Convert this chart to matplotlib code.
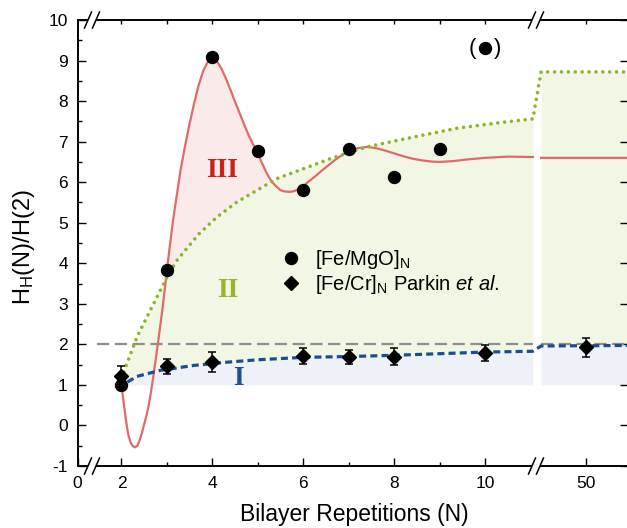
import numpy as np
import matplotlib
matplotlib.use("Agg")
import matplotlib.pyplot as plt
from matplotlib.lines import Line2D
from matplotlib.patches import Polygon

plt.rcParams['font.family'] = ['Liberation Sans', 'DejaVu Sans']
plt.rcParams['mathtext.fontset'] = 'custom'
plt.rcParams['mathtext.rm'] = 'Liberation Sans'
plt.rcParams['mathtext.it'] = 'Liberation Sans:italic'
plt.rcParams['axes.unicode_minus'] = False

# measured points
mgo_n = [2, 3, 4, 5, 6, 7, 8, 9, 10]
mgo_v = [0.99, 3.83, 9.09, 6.77, 5.80, 6.81, 6.13, 6.83, 9.32]

cr_n = [2, 3, 4, 6, 7, 8, 10, 50]
cr_v = [1.23, 1.46, 1.56, 1.71, 1.69, 1.70, 1.79, 1.93]
cr_err = [0.23, 0.18, 0.25, 0.20, 0.17, 0.22, 0.20, 0.23]

# guide curves
red_n = [2.0, 2.05, 2.1, 2.15, 2.2, 2.25, 2.3, 2.35, 2.4, 2.45, 2.5, 2.55, 2.6, 2.65,
         2.7, 2.75, 2.8, 2.85, 2.9, 2.95, 3.0, 3.05, 3.1, 3.15, 3.2, 3.3, 3.4, 3.5,
         3.6, 3.7, 3.8, 3.9, 4.0, 4.1, 4.2, 4.3, 4.4, 4.5, 4.6, 4.7, 4.8, 4.9, 5.0,
         5.1, 5.2, 5.3, 5.4, 5.5, 5.6, 5.7, 5.8, 5.9, 6.0, 6.1, 6.2, 6.3, 6.4, 6.5,
         6.6, 6.7, 6.8, 6.9, 7.0, 7.2, 7.4, 7.6, 7.8, 8.0, 8.2, 8.4, 8.6, 8.8, 9.0,
         9.3, 9.6, 10.0, 10.5, 11.05, np.nan, 45, 60]
red_v = [1.0, 0.55, 0.12, -0.23, -0.42, -0.51, -0.54, -0.5, -0.37, -0.18, 0.03, 0.24,
         0.5, 0.83, 1.2, 1.6, 2.01, 2.43, 2.86, 3.33, 3.83, 4.3, 4.75, 5.18, 5.55, 6.3,
         6.9, 7.45, 7.95, 8.4, 8.75, 8.97, 9.05, 8.98, 8.8, 8.55, 8.27, 7.98, 7.7,
         7.42, 7.15, 6.92, 6.7, 6.45, 6.21, 6.02, 5.9, 5.8, 5.77, 5.76, 5.78, 5.83,
         5.9, 6.0, 6.09, 6.18, 6.28, 6.37, 6.46, 6.55, 6.63, 6.70, 6.76, 6.84, 6.87,
         6.84, 6.78, 6.71, 6.64, 6.58, 6.54, 6.51, 6.50, 6.52, 6.56, 6.60, 6.63, 6.62,
         np.nan, 6.6, 6.6]

green_n = [2.05, 2.34, 2.67, 3.0, 3.22, 3.5, 3.7, 4.1, 4.54, 4.98, 5.42, 5.71, 6.12,
           6.59, 7.40, 8.28, 9.38, 10.48, 11.05, 45, 60]
green_v = [1.32, 2.18, 2.92, 3.66, 4.07, 4.45, 4.72, 5.14, 5.51, 5.80, 6.09, 6.21, 6.38,
           6.58, 6.87, 7.08, 7.33, 7.49, 7.56, 8.72, 8.72]

blue_n = [2.13, 2.34, 2.86, 3.59, 4.32, 5.0, 6.0, 7.0, 8.0, 9.0, 10.0, 11.05, 45, 60]
blue_v = [1.07, 1.21, 1.36, 1.48, 1.56, 1.62, 1.68, 1.70, 1.73, 1.77, 1.81, 1.83, 1.96, 1.98]

x_ticks = [0, 2, 4, 6, 8, 10, 50]
x_minor = [3, 5, 7, 9]

# broken axis: piecewise-linear x scale
KN = [0, 2, 11.05, 45, 60]
KU = [77, 121, 532.8, 541, 676]


def fwd(n):
    return np.interp(n, KN, KU)


def inv(u):
    return np.interp(u, KU, KN)


red_c = '#e06a6a'
green_c = '#8cb623'
blue_c = '#1b4e90'

fig = plt.figure(figsize=(6.27, 5.28), dpi=100)
W, H = 627.0, 528.0
ax = fig.add_axes([77.5 / W, 62 / H, 550 / W, 446 / H])
ax.set_xscale('function', functions=(fwd, inv))
xmax = 45 + (627.5 - 541) / 9.0
ax.set_xlim(0, xmax)
ax.set_ylim(-1, 10)

rn = np.array(red_n, dtype=float)
rv = np.array(red_v, dtype=float)
gn = np.array(green_n)
gv = np.array(green_v)
bn = np.array(blue_n)
bv = np.array(blue_v)

for lo, hi in [(0, 11.06), (44.9, 61)]:
    mb = (bn >= lo) & (bn <= hi)
    ax.fill_between(bn[mb], 1, bv[mb], color='#eef2f8', lw=0, zorder=1)
    mg = (gn >= lo) & (gn <= hi)
    ax.fill_between(gn[mg], np.interp(gn[mg], bn, bv), gv[mg], color='#f2f6e5', lw=0, zorder=1)

ok = ~np.isnan(rn) & (rn <= 11.06)
g_on_r = np.interp(rn[ok], gn, gv)
ax.fill_between(rn[ok], rv[ok], g_on_r, where=rv[ok] > g_on_r, interpolate=True,
                color='#fbeaea', lw=0, zorder=1)

ax.hlines([2, 2], [0.9, 45], [11.05, 60], colors='#8e8e8e', lw=1.6,
          linestyles=(0, (5.5, 2.5)), zorder=2)

ax.plot(rn, rv, color=red_c, lw=1.6, zorder=3)
ax.plot(gn, gv, color=green_c, lw=2.6, linestyle=(0, (0.01, 1.9)),
        dash_capstyle='round', zorder=4)
ax.plot(bn, bv, color=blue_c, lw=2.3, linestyle=(0, (2.2, 1.3)), zorder=4)

ax.errorbar(cr_n, cr_v, yerr=cr_err, fmt='none', ecolor='black', elinewidth=1.1,
            capsize=3.2, capthick=1.1, zorder=5)
ax.plot(cr_n, cr_v, 'D', color='black', ms=7.5, ls='none', zorder=6,
        label=r'[Fe/Cr]$_\mathrm{N}$ Parkin $\mathit{et\ al.}$')
ax.plot(mgo_n, mgo_v, 'o', color='black', ms=8.6, ls='none', zorder=6,
        label=r'[Fe/MgO]$_\mathrm{N}$')

ax.text(9.72, 9.3, '(', fontsize=16, ha='center', va='center')
ax.text(10.28, 9.3, ')', fontsize=16, ha='center', va='center')

ax.text(4.21, 6.13, 'III', fontsize=20, fontweight='bold', family='Liberation Serif',
        color='#c8221a', ha='center', va='baseline', zorder=7)
ax.text(4.34, 3.17, 'II', fontsize=20, fontweight='bold', family='Liberation Serif',
        color='#97b52b', ha='center', va='baseline', zorder=7)
ax.text(4.58, 0.99, 'I', fontsize=20, fontweight='bold', family='Liberation Serif',
        color=blue_c, ha='center', va='baseline', zorder=7)

h, l = ax.get_legend_handles_labels()
ax.legend(h[::-1], l[::-1], loc='upper left', bbox_to_anchor=(0.370, 0.488),
          frameon=False, fontsize=14.5, handlelength=0.95, handletextpad=0.75,
          borderpad=0, borderaxespad=0, labelspacing=0.1)

ax.set_xticks(x_ticks)
ax.set_xticklabels([str(t) for t in x_ticks])
ax.set_xticks(x_minor, minor=True)
ax.set_yticks(range(-1, 11))
ax.set_yticks(np.arange(-0.5, 10, 1.0), minor=True)
ax.tick_params(which='both', direction='in', labelsize=12.5, width=1.0,
               top=False, right=True)
ax.tick_params(which='major', length=5.5, pad=7)
ax.tick_params(which='minor', length=3, right=False)
ax.tick_params(axis='y', which='major', right=True)
for s in ax.spines.values():
    s.set_linewidth(1.2)

ax2 = ax.twiny()
ax2.set_xscale('function', functions=(fwd, inv))
ax2.set_xlim(0, xmax)
ax2.set_xticks([2, 3, 4, 5, 6, 7, 8, 9, 10, 50])
ax2.set_xticklabels([])
ax2.tick_params(direction='in', length=3, width=1.0)
for s in ax2.spines.values():
    s.set_linewidth(1.2)

ax.set_xlabel('Bilayer Repetitions (N)', fontsize=16.5)
ax.set_ylabel(r'H$_\mathrm{H}$(N)/H(2)', fontsize=17)
ax.xaxis.set_label_coords(0.503, -0.083)
ax.yaxis.set_label_coords(-0.074, 0.49)


# axis break marks (figure pixel coords)
def brk(cx, cy):
    def P(x, y):
        return (x / W, 1 - y / H)
    d = 4.0
    gap = Polygon([P(cx - d - 3.5, cy + 8), P(cx - d + 3.5, cy - 8),
                   P(cx + d + 3.5, cy - 8), P(cx + d - 3.5, cy + 8)],
                  closed=True, transform=fig.transFigure, facecolor='white',
                  edgecolor='none')
    fig.add_artist(gap)
    for off in (-d, d):
        x0, y0 = P(cx + off - 3.5, cy + 8)
        x1, y1 = P(cx + off + 3.5, cy - 8)
        fig.add_artist(Line2D([x0, x1], [y0, y1], transform=fig.transFigure,
                              color='black', lw=1.1))


for cx in (92, 536):
    for cy in (20, 466):
        brk(cx, cy)

fig.savefig('out.png', dpi=100)
